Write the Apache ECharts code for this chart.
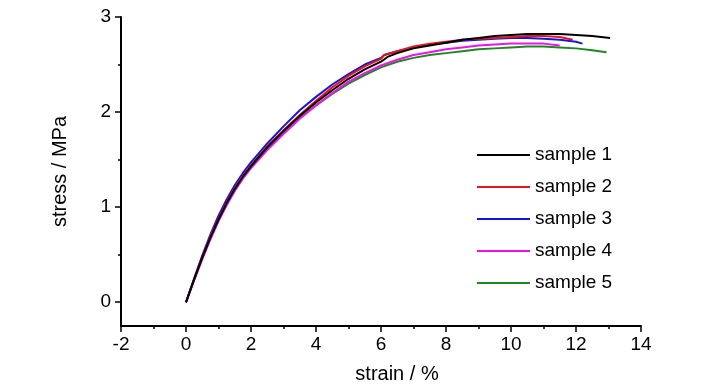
<!DOCTYPE html>
<html><head><meta charset="utf-8">
<script src="https://cdn.jsdelivr.net/npm/echarts@6/dist/echarts.min.js"></script>
<style>html,body{margin:0;padding:0;background:#fff}#c{width:727px;height:389px}</style>
</head><body><div id="c"></div>
<script>
const seriesNames = ['sample 1','sample 2','sample 3','sample 4','sample 5'];
const colors = ['#000000','#e8161b','#1414e6','#f20ff2','#1a8a1a'];
const strain1 = [0,0.25,0.5,0.75,1,1.25,1.5,1.75,2,2.5,3,3.5,4,4.5,5,5.5,6,6.2,6.5,7,7.5,8,8.5,9,9.5,10,10.5,11,11.5,12,12.5,13.05];
const stress1 = [0,0.24,0.47,0.68,0.87,1.04,1.19,1.32,1.43,1.63,1.8,1.96,2.1,2.23,2.35,2.45,2.53,2.58,2.62,2.67,2.7,2.73,2.76,2.78,2.8,2.81,2.82,2.82,2.82,2.81,2.8,2.78];
const strain2 = [0,0.25,0.5,0.75,1,1.25,1.5,1.75,2,2.5,3,3.5,4,4.5,5,5.5,6,6.1,6.5,7,7.5,8,8.5,9,9.5,10,10.5,11,11.5,11.9];
const stress2 = [0,0.24,0.47,0.69,0.88,1.05,1.2,1.33,1.44,1.64,1.81,1.97,2.12,2.26,2.38,2.48,2.56,2.6,2.64,2.69,2.72,2.74,2.76,2.77,2.78,2.79,2.8,2.8,2.79,2.76];
const strain3 = [0,0.25,0.5,0.75,1,1.25,1.5,1.75,2,2.5,3,3.5,4,4.5,5,5.5,6,6.1,6.5,7,7.5,8,8.5,9,9.5,10,10.5,11,11.5,12,12.2];
const stress3 = [0,0.25,0.49,0.71,0.91,1.08,1.23,1.36,1.47,1.67,1.85,2.02,2.16,2.29,2.4,2.5,2.57,2.6,2.64,2.68,2.71,2.73,2.75,2.76,2.77,2.78,2.78,2.77,2.76,2.74,2.72];
const strain4 = [0,0.25,0.5,0.75,1,1.25,1.5,1.75,2,2.5,3,3.5,4,4.5,5,5.5,6,6.5,7,7.5,8,8.5,9,9.5,10,10.5,11,11.5];
const stress4 = [0,0.23,0.45,0.66,0.85,1.02,1.17,1.3,1.41,1.6,1.77,1.93,2.07,2.2,2.32,2.41,2.49,2.55,2.6,2.63,2.66,2.68,2.7,2.71,2.72,2.72,2.72,2.7];
const strain5 = [0,0.25,0.5,0.75,1,1.25,1.5,1.75,2,2.5,3,3.5,4,4.5,5,5.5,6,6.5,7,7.5,8,8.5,9,9.5,10,10.5,11,11.5,12,12.5,12.94];
const stress5 = [0,0.24,0.47,0.68,0.87,1.03,1.18,1.31,1.42,1.61,1.78,1.94,2.07,2.19,2.3,2.39,2.47,2.53,2.57,2.6,2.62,2.64,2.66,2.67,2.68,2.69,2.69,2.68,2.67,2.65,2.63];
const xTicks = [-2,0,2,4,6,8,10,12,14];
const yTicks = [0,1,2,3];
const yMinorTicks = [0.5,1.5,2.5];

const strains = [strain1,strain2,strain3,strain4,strain5];
const stresses = [stress1,stress2,stress3,stress4,stress5];
const FONT = 'Liberation Sans';
const chart = echarts.init(document.getElementById('c'), null, {renderer:'canvas'});
chart.setOption({
  animation:false,
  backgroundColor:'#fff',
  grid:{left:121,right:86,top:17,bottom:61,containLabel:false},
  legend:{
    orient:'vertical', left:472, top:140, itemWidth:53, itemHeight:2, itemGap:12,
    icon:'rect',
    textStyle:{fontFamily:FONT,fontSize:19,color:'#000',lineHeight:20},
    data:seriesNames
  },
  xAxis:{
    type:'value', min:-2, max:14, interval:2,
    name:'strain / %', nameLocation:'middle', nameGap:38,
    nameTextStyle:{fontFamily:FONT,fontSize:20,color:'#000',padding:[0,0,0,32]},
    axisLine:{show:true,onZero:false,lineStyle:{color:'#000',width:2}},
    axisTick:{show:true,inside:false,length:6,lineStyle:{color:'#000',width:1.5}},
    minorTick:{show:true,splitNumber:2,length:3,lineStyle:{color:'#000',width:1.5}},
    splitLine:{show:false},
    axisLabel:{fontFamily:FONT,fontSize:19,color:'#000',margin:9}
  },
  yAxis:[{
    type:'value', min:-0.25, max:3,
    name:'stress / MPa', nameLocation:'middle', nameGap:51,
    nameTextStyle:{fontFamily:FONT,fontSize:20,color:'#000'},
    axisLine:{show:true,onZero:false,lineStyle:{color:'#000',width:2}},
    axisTick:{show:true,inside:false,length:6,customValues:yTicks,lineStyle:{color:'#000',width:1.5}},
    splitLine:{show:false},
    axisLabel:{fontFamily:FONT,fontSize:19,color:'#000',margin:10,customValues:yTicks}
  },{
    type:'value', min:-0.25, max:3, position:'left',
    axisLine:{show:false,onZero:false},
    axisTick:{show:true,inside:false,length:3,customValues:yMinorTicks,lineStyle:{color:'#000',width:1.5}},
    splitLine:{show:false},
    axisLabel:{show:false}
  }],
  series: seriesNames.map((n,i)=>({
    name:n, type:'line', yAxisIndex:0, symbol:'none', smooth:false,
    lineStyle:{color:colors[i],width:2}, itemStyle:{color:colors[i]},
    data: strains[i].map((x,j)=>[x,stresses[i][j]]),
    z: 10 - i
  }))
});
</script></body></html>
